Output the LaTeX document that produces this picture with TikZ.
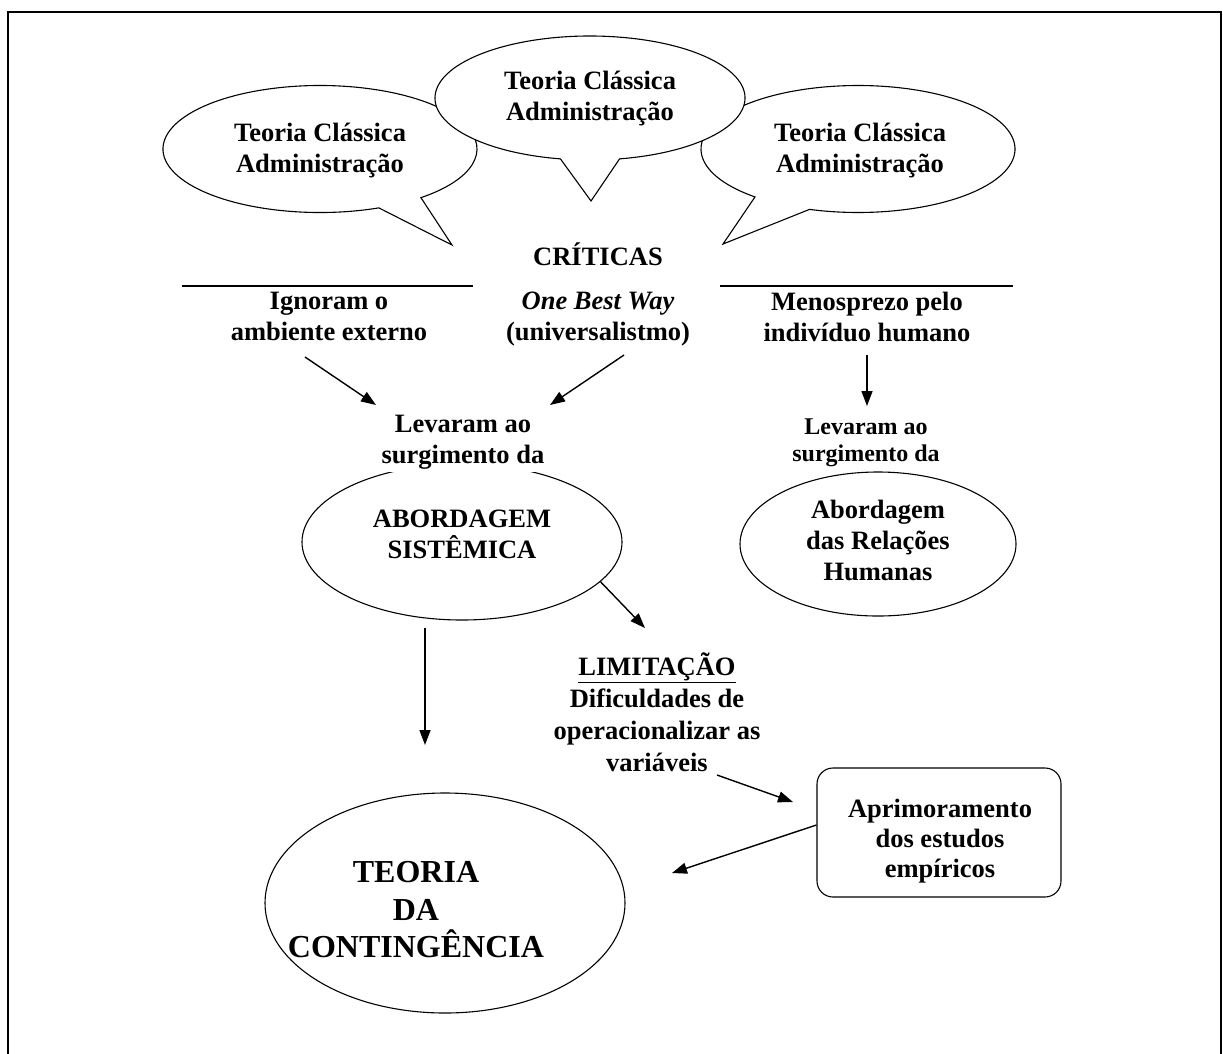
\documentclass[tikz,border=0pt]{standalone}
\usepackage{fontspec}
\setmainfont{Liberation Serif}
\usetikzlibrary{arrows.meta,shapes.geometric}
\begin{document}
\begin{tikzpicture}[x=1pt,y=-1pt,
  txt/.style={font=\bfseries\fontsize{26.5}{31}\selectfont, align=center, inner sep=0pt},
  smalltxt/.style={font=\bfseries\fontsize{24}{27}\selectfont, align=center, inner sep=0pt},
  bigtxt/.style={font=\bfseries\fontsize{32}{37.5}\selectfont, align=center, inner sep=0pt},
  bubble/.style={draw, fill=white, line width=1.1pt},
  oval/.style={draw, ellipse, line width=1.1pt, inner sep=0pt},
  rule/.style={line width=1.3pt},
  arr/.style={line width=1.4pt, -{Triangle[length=15pt,width=11pt]}},
]
\useasboundingbox (0,0) rectangle (1223,1053);

% frame
\draw[line width=1.8pt] (8,1060) -- (8,12) -- (1221,12) -- (1221,1060);

% speech bubbles (centre one drawn last, on top)
\path[bubble] (320,149) ++(68:157 and 63.5)
  arc[start angle=68, end angle=410, x radius=157, y radius=63.5] -- (452,245) -- cycle;
\path[bubble] (858,149) ++(131:157 and 63.5)
  arc[start angle=131, end angle=468, x radius=157, y radius=63.5] -- (723,244) -- cycle;
\path[bubble] (590,98) ++(101:155 and 62)
  arc[start angle=101, end angle=439, x radius=155, y radius=62] -- (591,201) -- cycle;

\node[txt] (bl) at (320,150.5) {Teoria Clássica\\Administração};
\node[txt] (bc) at (590,98.5) {Teoria Clássica\\Administração};
\node[txt] (br) at (860,150.5) {Teoria Clássica\\Administração};

% criticisms
\node[txt] (crit) at (598,254) {CRÍTICAS};
\coordinate (r1a) at (182,286);
\coordinate (r1b) at (473,286);
\coordinate (r2a) at (720,286);
\coordinate (r2b) at (1013,286);
\draw[rule] (r1a) -- (r1b);
\draw[rule] (r2a) -- (r2b);

\node[txt] (ign) at (329,316.5) {Ignoram o\\ambiente externo};
\node[txt] (obw) at (598,319) {\textit{One Best Way}\\(universalistmo)};
\node[txt] (men) at (867,316.5) {Menosprezo pelo\\indivíduo humano};

% approaches
\node[oval, minimum width=320pt, minimum height=156pt] (absE) at (462,542) {};
\node[txt] (absT) at (462,534) {ABORDAGEM\\SISTÊMICA};
\node[oval, minimum width=276pt, minimum height=144pt] (rhE) at (878,544) {};
\node[txt] (rhT) at (878,540) {Abordagem\\das Relações\\Humanas};

\node[txt, fill=white, inner sep=2pt] (levL) at (463,442.5) {Levaram ao\\surgimento da};
\node[smalltxt, fill=white, inner sep=2pt] (levR) at (866,443) {Levaram ao\\surgimento da};

% limitation and improvement
\node[txt, font=\bfseries\fontsize{26.5}{32}\selectfont] (lim) at (657,712.5)
  {\underline{LIMITAÇÃO}\\Dificuldades de\\operacionalizar as\\variáveis};
\node[draw, rounded corners=16pt, line width=1.1pt, minimum width=244pt,
      minimum height=129pt] (apr) at (939,832.5) {};
\node[txt, font=\bfseries\fontsize{26.5}{30}\selectfont] (aprT) at (940,841)
  {Aprimoramento\\dos estudos\\empíricos};

% contingency theory
\node[oval, minimum width=360pt, minimum height=220pt] (tcE) at (445,903) {};
\node[bigtxt] (tcT) at (416,910) {TEORIA\\DA\\CONTINGÊNCIA};

% connectors
\draw[arr] ([shift={(-24,40.5)}]ign.center) -- ([shift={(-87,-37.5)}]levL.center);
\draw[arr] ([shift={(26,36)}]obw.center) -- ([shift={(87,-37.5)}]levL.center);
\draw[arr] ([shift={(0,38.5)}]men.center) -- ([shift={(1,-37)}]levR.center);
\draw[arr] (absE.-16) -- ([shift={(-12,-84.5)}]lim.center);
\draw[arr] ([shift={(-37,86)}]absE.center) -- ([shift={(-20,-158)}]tcE.center);
\draw[arr] ([shift={(60,62.5)}]lim.center) -- ([shift={(-146,-30.5)}]apr.center);
\draw[arr] ([shift={(0,-7.5)}]apr.west) -- ([shift={(227,-30)}]tcE.center);
\end{tikzpicture}
\end{document}
